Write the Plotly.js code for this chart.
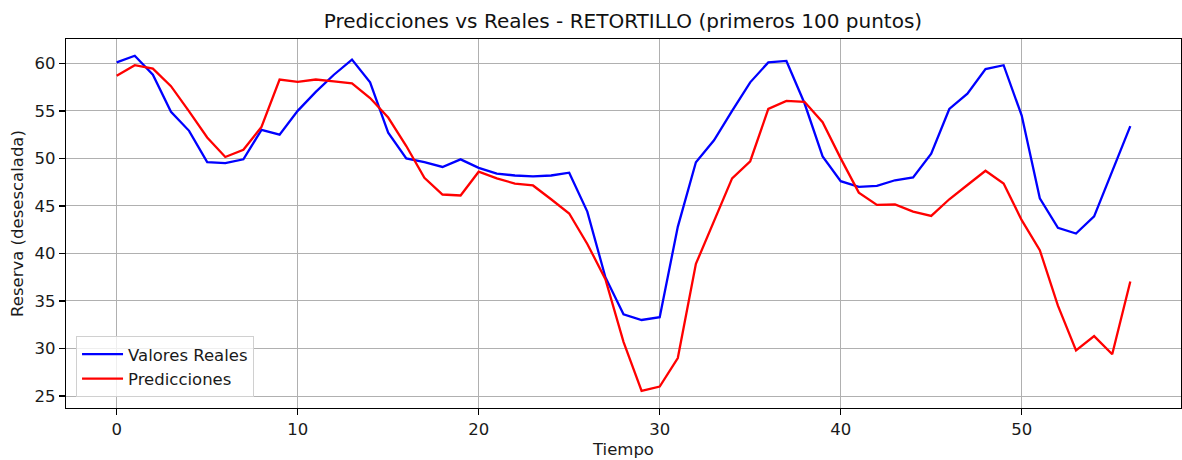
<!DOCTYPE html>
<html>
<head>
<meta charset="utf-8">
<script src="https://cdn.plot.ly/plotly-3.0.1.min.js"></script>
<style>html,body{margin:0;padding:0;background:#fff;}#chart{width:1182px;height:460px;}</style>
</head>
<body>
<div id="chart"></div>
<script>
const tiempo = Array.from({length: 57}, (_, i) => i);
const valoresReales = [
  60.1, 60.8, 58.8, 54.9, 52.9, 49.6, 49.5, 49.9, 53.0, 52.5,
  55.0, 57.0, 58.8, 60.4, 58.0, 52.7, 50.0, 49.6, 49.1, 49.9,
  49.0, 48.4, 48.2, 48.1, 48.2, 48.5, 44.4, 37.5, 33.6, 33.0,
  33.3, 42.8, 49.6, 51.9, 55.0, 58.0, 60.1, 60.25, 55.8, 50.2,
  47.6, 47.0, 47.1, 47.7, 48.0, 50.5, 55.2, 56.8, 59.4, 59.8,
  54.5, 45.8, 42.7, 42.1, 43.9, 48.7, 53.4
];
const predicciones = [
  58.7, 59.8, 59.45, 57.6, 54.95, 52.2, 50.15, 50.9, 53.3, 58.3,
  58.05, 58.3, 58.1, 57.9, 56.35, 54.3, 51.3, 47.95, 46.2, 46.1,
  48.6, 47.9, 47.35, 47.15, 45.7, 44.2, 41.0, 37.3, 30.7, 25.55,
  26.0, 29.0, 38.9, 43.5, 47.9, 49.7, 55.2, 56.05, 55.95, 53.8,
  50.0, 46.4, 45.1, 45.15, 44.4, 43.95, 45.7, 47.2, 48.7, 47.35,
  43.5, 40.35, 34.5, 29.8, 31.3, 29.4, 37.05
];
const xTicks = [0, 10, 20, 30, 40, 50];
const yTicks = [25, 30, 35, 40, 45, 50, 55, 60];

const font = 'DejaVu Sans, sans-serif';
const traces = [
  {x: tiempo, y: valoresReales, type: 'scatter', mode: 'lines', name: 'Valores Reales',
   line: {color: '#0000ff', width: 2.3}},
  {x: tiempo, y: predicciones, type: 'scatter', mode: 'lines', name: 'Predicciones',
   line: {color: '#ff0000', width: 2.3}}
];
const axisCommon = {
  showline: true, mirror: true, linecolor: '#000', linewidth: 1.3,
  showgrid: true, gridcolor: '#b0b0b0', gridwidth: 1,
  zeroline: false, ticks: 'outside', ticklen: 6, tickwidth: 1.3, tickcolor: '#000',
  tickfont: {family: font, size: 16.5, color: '#1a1a1a'}
};
const layout = {
  width: 1182, height: 460,
  margin: {l: 66, r: 1, t: 39, b: 52},
  paper_bgcolor: '#fff', plot_bgcolor: '#fff',
  font: {family: font, color: '#1a1a1a'},
  title: {text: 'Predicciones vs Reales - RETORTILLO (primeros 100 puntos)',
          font: {family: font, size: 20, color: '#111'}, x: 0.527, xanchor: 'center', y: 0.955, yanchor: 'middle'},
  xaxis: Object.assign({}, axisCommon, {
    range: [-2.8, 58.8], tickvals: xTicks, ticktext: xTicks.map(String),
    title: {text: 'Tiempo', font: {family: font, size: 16.5, color: '#1a1a1a'}, standoff: 5}
  }),
  yaxis: Object.assign({}, axisCommon, {
    range: [23.74, 62.56], tickvals: yTicks, ticktext: yTicks.map(String),
    title: {text: 'Reserva (desescalada)', font: {family: font, size: 16.5, color: '#1a1a1a'}, standoff: 6}
  }),
  showlegend: true,
  legend: {x: 0.009, y: 0.03, xanchor: 'left', yanchor: 'bottom',
           bgcolor: 'rgba(255,255,255,0.8)', bordercolor: '#d0d0d0', borderwidth: 1,
           font: {family: font, size: 16.5, color: '#1a1a1a'}, tracegroupgap: 0, itemwidth: 41}
};
Plotly.newPlot('chart', traces, layout, {displayModeBar: false, staticPlot: true});
</script>
</body>
</html>
